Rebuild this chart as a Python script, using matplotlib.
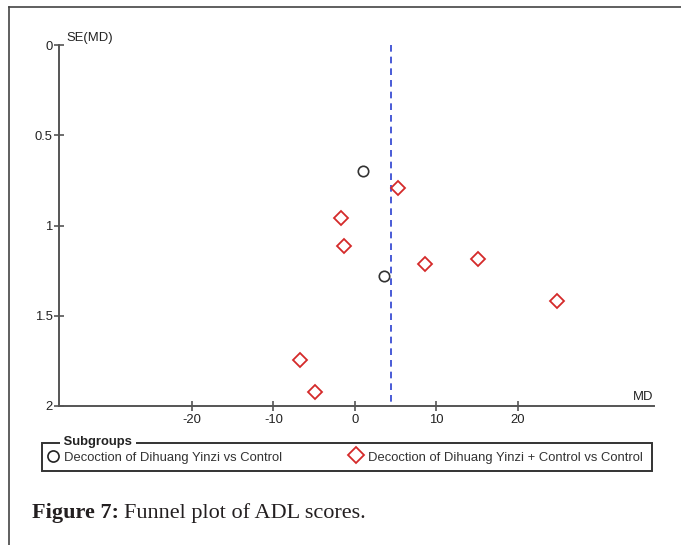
import matplotlib
matplotlib.use("Agg")
from matplotlib import pyplot as plt
from matplotlib.lines import Line2D
from matplotlib.patches import Rectangle

# study effects (MD) and standard errors
md_plain = [1.0, 3.6]
se_plain = [0.70, 1.28]
md_combo = [5.3, -1.7, -1.3, 8.6, 15.1, 24.8, -6.75, -4.9]
se_combo = [0.79, 0.96, 1.115, 1.215, 1.185, 1.42, 1.745, 1.925]
pooled_md = 4.38
label_plain = "Decoction of Dihuang Yinzi vs Control"
label_combo = "Decoction of Dihuang Yinzi + Control vs Control"
x_ticks = [-20, -10, 0, 10, 20]
y_ticks = [0, 0.5, 1, 1.5, 2]

W, H = 681, 545
plt.rcParams['font.family'] = ['Liberation Sans', 'DejaVu Sans']
fig = plt.figure(figsize=(W / 100, H / 100), dpi=100)

def fx(px):
    return px / W

def fy(py):
    return 1 - py / H

ax = fig.add_axes([fx(59), fy(406), fx(654) - fx(59), fy(45) - fy(406)])
ax.set_xlim(-36.3, 36.7)
ax.set_ylim(2, 0)

axis_col = "#555555"
txt_col = "#222222"
fs = 9.4
for s in ["top", "right"]:
    ax.spines[s].set_visible(False)
for s in ["left", "bottom"]:
    ax.spines[s].set_color(axis_col)
    ax.spines[s].set_linewidth(1.4)

ax.plot([pooled_md, pooled_md], [0, 2], ls=(0, (4, 3)), color="#2a3fd0", lw=1.2)
ax.plot(md_plain, se_plain, ls="none", marker="o", ms=7.5, mfc="none",
        mec="#333333", mew=1.2, clip_on=False)
ax.plot(md_combo, se_combo, ls="none", marker="D", ms=7, mfc="none",
        mec="#d42a2a", mew=1.3, clip_on=False)

ax.set_xticks(x_ticks)
ax.set_xticklabels([str(t) for t in x_ticks])
ax.set_yticks(y_ticks)
ax.set_yticklabels(["0", "0.5", "1", "1.5", "2"])
ax.tick_params(axis="both", direction="inout", length=7, width=1.2,
               color=axis_col, labelsize=fs, labelcolor=txt_col)
ax.tick_params(axis="x", pad=2)
ax.tick_params(axis="y", pad=1)

fig.text(fx(66), fy(38), "SE(MD)", fontsize=fs, color=txt_col,
         ha="left", va="center")
fig.text(fx(653), fy(397), "MD", fontsize=fs, color=txt_col,
         ha="right", va="center")

# outer frame (top and left only)
fig.add_artist(Line2D([fx(9), 1], [fy(7), fy(7)], color="#444444", lw=1.2))
fig.add_artist(Line2D([fx(9), fx(9)], [fy(7), 0], color="#444444", lw=1.2))

# legend box
fig.add_artist(Rectangle((fx(42), fy(471)), fx(652) - fx(42), fy(443) - fy(471),
                         fill=False, ec="#333333", lw=1.4))
fig.text(fx(60), fy(442), " Subgroups ", fontsize=fs, fontweight="bold",
         color=txt_col, ha="left", va="center",
         bbox=dict(fc="white", ec="none", pad=0))
fig.add_artist(Line2D([fx(53)], [fy(456)], marker="o", ms=8, mfc="none",
                      mec="#222222", mew=1.2, ls="none"))
fig.text(fx(64), fy(458), label_plain, fontsize=fs, color="#333333",
         ha="left", va="center")
fig.add_artist(Line2D([fx(356)], [fy(455)], marker="D", ms=8, mfc="none",
                      mec="#d42a2a", mew=1.3, ls="none"))
fig.text(fx(368), fy(458), label_combo, fontsize=fs, color="#333333",
         ha="left", va="center")

# caption
fig.text(fx(32), fy(513), "Figure 7:", fontsize=16, fontweight="bold",
         family="Liberation Serif", color="#231f20", ha="left", va="center")
fig.text(fx(124), fy(513), "Funnel plot of ADL scores.", fontsize=16,
         family="Liberation Serif", color="#231f20", ha="left", va="center")

fig.savefig("out.png", dpi=100)
